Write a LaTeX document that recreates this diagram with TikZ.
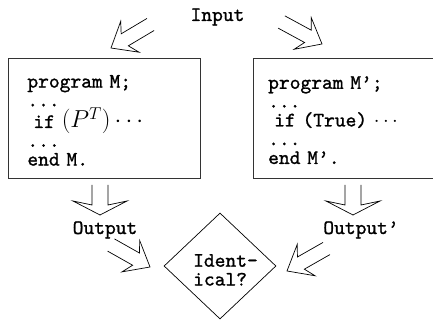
\RequirePackage{fix-cm}
\documentclass[tikz,border=0pt]{standalone}
\usepackage{fontspec}
\newfontfamily\codefont{lmmono10-regular.otf}[FakeBold=1.1,WordSpace={1,0,0},PunctuationSpace=WordSpace]
\newcommand\codesetup{\codefont\fontsize{20.5}{18.8}\selectfont\spaceskip 0.525em\relax}
\usetikzlibrary{calc,shapes.geometric}
\newcommand\hollowarrow[6]{%
  \coordinate (#1-#2-n) at ($(#2)!#4!(#1)$);
  \coordinate (#1-#2-b) at ($(#2)!#5!(#1)$);
  \draw[hollow] ($(#1)!#3!90:(#2)$) -- ($(#1-#2-n)!#3!90:(#2)$) -- ($(#1-#2-b)!#6!90:(#2)$) -- (#2)
    -- ($(#1-#2-b)!#6!-90:(#2)$) -- ($(#1-#2-n)!#3!-90:(#2)$) -- ($(#1)!#3!-90:(#2)$);
}
\begin{document}
\begin{tikzpicture}[x=1pt,y=-1pt,
  code/.style={font=\codesetup},
  progbox/.style={anchor=north west, align=left, code,
    minimum height=119.5pt, inner ysep=0pt},
  boxline/.style={line width=0.8pt, draw=black!80},
  hollow/.style={line width=0.7pt, line join=miter}]
\useasboundingbox (0,0) rectangle (433,320);
\clip (0,0) rectangle (433,320);

\node[code, anchor=base, inner sep=0pt] (in) at (217.5,21) {Input};
\node[progbox, draw, boxline, inner xsep=19pt, text width=154pt, minimum width=192pt] (pm) at (8,58.5)
  {\rule{0pt}{16pt}program M;\\...\\\hspace{6pt}if {\fontsize{24.5}{18.8}\selectfont$(P^T)\cdots$}\\...\\end M.};
\node[progbox, inner xsep=15pt, text width=200pt, minimum width=230pt] (pmp) at (253,58.5)
  {\rule{0pt}{16pt}program M’;\\...\\\hspace{6pt}if (True) $\cdots$\\...\\end M’.};
\draw[boxline] (pmp.north east) -- (pmp.north west) -- (pmp.south west) -- (pmp.south east);
\node[code, anchor=base, inner sep=0pt] (o1) at (105,234) {Output};
\node[code, anchor=base, inner sep=0pt] (o2) at (361,234) {Output’};
\node[diamond, draw, line width=0.7pt, minimum width=112pt, minimum height=106pt, inner sep=0pt] (dia) at (220,266) {};
\node[code, align=left, anchor=north west, inner sep=0pt] (idt) at (193,254) {Ident-\\ical?};

\coordinate (tls) at (150.5,24.5); \coordinate (tle) at (111,48);
\coordinate (trs) at (281.5,22);   \coordinate (tre) at (322,44);
\coordinate (dls) at (100,185);    \coordinate (dle) at (100,215);
\coordinate (drs) at (353,185);    \coordinate (dre) at (353,215);
\coordinate (bls) at (111,245);    \coordinate (ble) at (150,267);
\coordinate (brs) at (326.5,248.5);\coordinate (bre) at (287,271);

\hollowarrow{tls}{tle}{7pt}{16pt}{22pt}{18pt}
\hollowarrow{trs}{tre}{7pt}{16pt}{22pt}{18pt}
\hollowarrow{dls}{dle}{8pt}{10pt}{14pt}{27pt}
\hollowarrow{drs}{dre}{8pt}{10pt}{14pt}{27pt}
\hollowarrow{bls}{ble}{7pt}{16pt}{22pt}{18pt}
\hollowarrow{brs}{bre}{7pt}{16pt}{22pt}{18pt}
\end{tikzpicture}
\end{document}
